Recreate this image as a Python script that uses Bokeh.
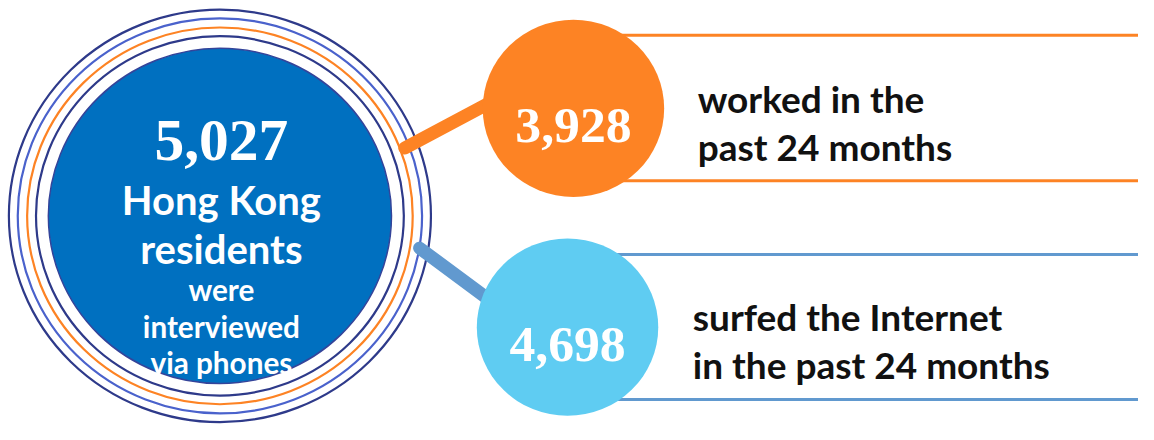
from bokeh.plotting import figure
from bokeh.models import Range1d
from bokeh.embed import file_html
from bokeh.resources import INLINE
from bokeh.core.properties import value

# ---- data ----
total_value = "5,027"
total_lines_big = ["Hong Kong", "residents"]
total_lines_small = ["were", "interviewed", "via phones"]
groups = ["work", "internet"]
group_values = ["3,928", "4,698"]
group_text = [["worked in the", "past 24 months"],
              ["surfed the Internet", "in the past 24 months"]]

# ---- styles / layout (reference pixel space 1154 x 440) ----
W, H = 1138, 424
REF_W, REF_H = 1154, 440
FS = 0.975  # font scale for the slightly smaller canvas

ORANGE = "#FD8324"
SKY = "#5FCCF2"
STEEL = "#6199CF"
BIGBLUE = "#0070C0"
NAVY = "#2E3A8A"
MIDBLUE = "#4A62CC"

BODY = "Lato"
SERIF = "Liberation Serif"


def fpx(v):
    return f"{v * FS:.1f}px"


p = figure(width=W, height=H, output_backend="svg", toolbar_location=None,
           x_range=Range1d(0, REF_W), y_range=Range1d(REF_H, 0),
           min_border=0, border_fill_color="white", background_fill_color="white")
p.axis.visible = False
p.grid.visible = False
p.outline_line_color = None

cx, cy = 222.5, 223.5

# rings
rings = [(214, NAVY), (205, MIDBLUE), (195.5, ORANGE), (186.5, NAVY)]
for r, c in rings:
    p.ellipse(x=[cx], y=[cy], width=2 * r, height=2 * r, fill_color=None,
              line_color=c, line_width=2.2)

# main disc
p.ellipse(x=[cx], y=[cy], width=2 * 174, height=2 * 174, fill_color=BIGBLUE,
          line_color="#34449A", line_width=1.5)

# group layout
g_center = {"work": (581, 112), "internet": (575, 339)}
g_color = {"work": ORANGE, "internet": SKY}
g_line = {"work": ORANGE, "internet": STEEL}
g_rules = {"work": (36, 187), "internet": (263.5, 414)}
g_conn = {"work": ((410, 153), (500, 104)), "internet": ((425, 257), (500, 314))}
g_text_x = {"work": 707, "internet": 702}
g_text_y = {"work": (102, 152), "internet": (328, 378)}

for g, val, lines in zip(groups, group_values, group_text):
    gx, gy = g_center[g]
    y1, y2 = g_rules[g]
    p.segment(x0=[gx, gx], y0=[y1, y2], x1=[1170, 1170], y1=[y1, y2],
              line_color=g_line[g], line_width=3)
    (ax, ay), (bx, by) = g_conn[g]
    p.segment(x0=[ax], y0=[ay], x1=[bx], y1=[by], line_color=g_line[g],
              line_width=13, line_cap="round")
    p.ellipse(x=[gx], y=[gy], width=184, height=184, fill_color=g_color[g], line_color=None)
    p.text(x=[gx], y=[gy + 18], text=[val], text_color="white",
           text_font=value(SERIF), text_font_style="bold", text_font_size=fpx(53),
           text_align="center", text_baseline="alphabetic")
    ty = g_text_y[g]
    p.text(x=[g_text_x[g]] * 2, y=list(ty), text=lines, text_color="#111111",
           text_font=value(BODY), text_font_style="bold", text_font_size=fpx(38),
           text_align="left", text_baseline="alphabetic")

# main disc text
p.text(x=[cx + 1.5], y=[145], text=[total_value], text_color="white",
       text_font=value(SERIF), text_font_style="bold", text_font_size=fpx(61),
       text_align="center", text_baseline="alphabetic")
p.text(x=[cx + 1.5] * 2, y=[207, 258], text=total_lines_big, text_color="white",
       text_font=value(BODY), text_font_style="bold", text_font_size=fpx(41),
       text_align="center", text_baseline="alphabetic")
p.text(x=[cx + 1.5] * 3, y=[300, 338, 376], text=total_lines_small, text_color="white",
       text_font=value(BODY), text_font_style="bold", text_font_size=fpx(30.5),
       text_align="center", text_baseline="alphabetic")

open("out.html", "w").write(file_html(p, INLINE))
